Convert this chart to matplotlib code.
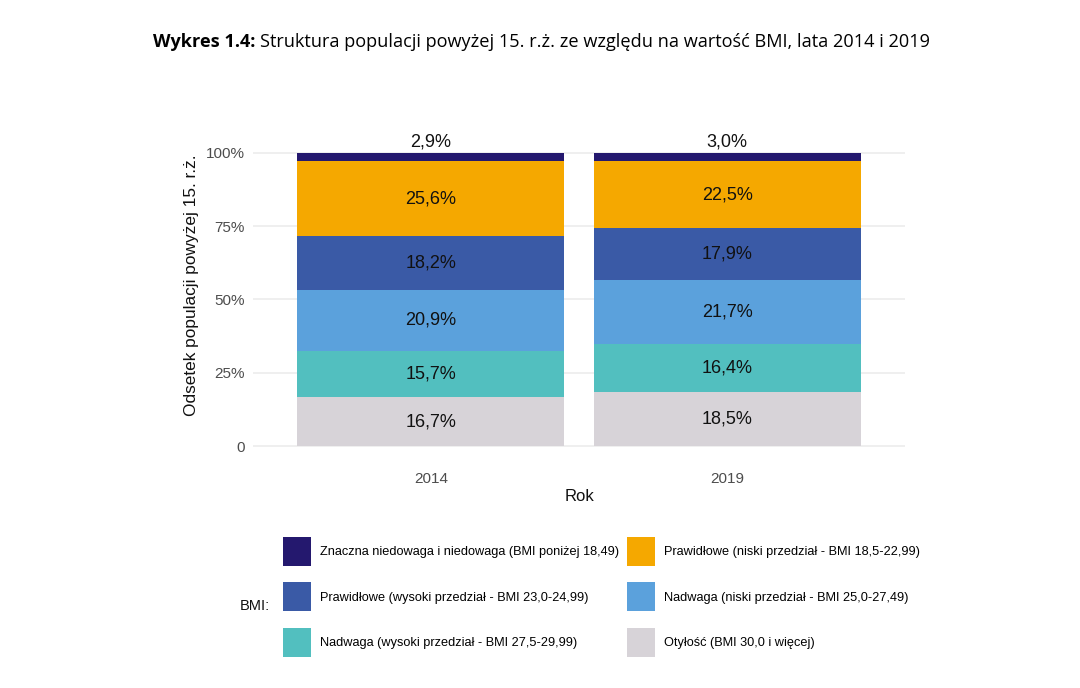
import matplotlib
matplotlib.use("Agg")
import matplotlib.pyplot as plt
from matplotlib.patches import Patch
import numpy as np

years = ["2014", "2019"]
categories = [
    "Otyłość (BMI 30,0 i więcej)",
    "Nadwaga (wysoki przedział - BMI 27,5-29,99)",
    "Nadwaga (niski przedział - BMI 25,0-27,49)",
    "Prawidłowe (wysoki przedział - BMI 23,0-24,99)",
    "Prawidłowe (niski przedział - BMI 18,5-22,99)",
    "Znaczna niedowaga i niedowaga (BMI poniżej 18,49)",
]
values_2014 = [16.7, 15.7, 20.9, 18.2, 25.6, 2.9]
values_2019 = [18.5, 16.4, 21.7, 17.9, 22.5, 3.0]
colors = ["#d7d3d8", "#52bfbf", "#5ba1dc", "#3a5aa6", "#f5a800", "#24186e"]
yticks = [0, 25, 50, 75, 100]
ytick_labels = ["0", "25%", "50%", "75%", "100%"]

plt.rcParams['font.family'] = ['Liberation Sans', 'DejaVu Sans']

fig = plt.figure(figsize=(10.8, 6.88), dpi=100)
ax = fig.add_axes([253/1080, 1 - 461/688, 652/1080, 323/688])

x = np.array([1, 2])
data = np.array([values_2014, values_2019])
bottom = np.zeros(2)
handles = []
for i, cat in enumerate(categories):
    vals = data[:, i]
    ax.bar(x, vals, bottom=bottom, width=0.9, color=colors[i], zorder=2, label=cat)
    for j in range(2):
        lbl = f"{vals[j]:.1f}".replace(".", ",") + "%"
        if i == len(categories) - 1:
            ax.text(x[j], 103.6, lbl, ha="center", va="center", fontsize=13, color="#111111", zorder=3)
        else:
            ax.text(x[j], bottom[j] + vals[j] / 2, lbl, ha="center", va="center",
                    fontsize=13, color="#111111", zorder=3)
    bottom += vals
    handles.append(Patch(facecolor=colors[i], label=cat))

ax.set_xlim(0.4, 2.6)
ax.set_ylim(-5, 105)
ax.set_yticks(yticks)
ax.set_yticklabels(ytick_labels)
ax.set_xticks(x)
ax.set_xticklabels(years)
ax.tick_params(axis="both", length=0, labelsize=11, labelcolor="#4d4d4d")
ax.tick_params(axis="x", pad=8)
ax.tick_params(axis="y", pad=6)
ax.grid(axis="y", color="#ebebeb", linewidth=1.1, zorder=0)
for s in ax.spines.values():
    s.set_visible(False)
ax.set_xlabel("Rok", fontsize=12, color="#111111", labelpad=2)
ax.set_ylabel("Odsetek populacji powyżej 15. r.ż.", fontsize=12.4, color="#111111")
ax.yaxis.set_label_coords(-0.0828, 0.545)

# title
ty = 1 - 42/688
t1 = fig.text(153/1080, ty, "Wykres 1.4:", fontsize=13.05, fontweight="bold",
              family=["Open Sans", "DejaVu Sans"], va="center", ha="left")
fig.canvas.draw()
bb = t1.get_window_extent(renderer=fig.canvas.get_renderer())
t2 = fig.text((bb.x1 + 5) / 1080, ty,
              "Struktura populacji powyżej 15. r.ż. ze względu na wartość BMI, lata 2014 i 2019",
              fontsize=13.05, family=["Open Sans", "DejaVu Sans"], va="center", ha="left")

# legend (row-major order in reference)
order = [5, 3, 1, 4, 2, 0]
leg = fig.legend([handles[k] for k in order], [categories[k] for k in order],
                 ncol=2, loc="upper left", bbox_to_anchor=(283/1080, 1 - 537/688),
                 frameon=False, fontsize=9.2, handlelength=2.2, handleheight=3.1,
                 handletextpad=0.7, labelspacing=1.29, columnspacing=0.63, borderpad=0,
                 borderaxespad=0)
fig.text(240/1080, 1 - 606/688, "BMI:", fontsize=10.5, va="center", ha="left", color="#111111")

fig.savefig("out.png", dpi=100)
